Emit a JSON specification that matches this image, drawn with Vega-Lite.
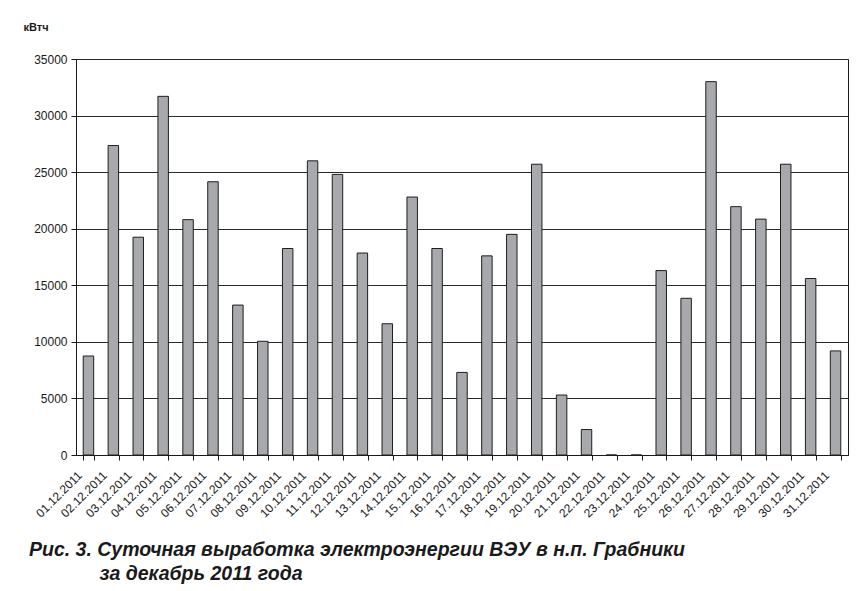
{
  "$schema": "https://vega.github.io/schema/vega-lite/v6.json",
  "autosize": {"type": "none"},
  "width": 772,
  "height": 396,
  "padding": {"left": 76, "top": 59, "right": 16, "bottom": 136},
  "background": "#ffffff",
  "config": {
    "font": "Liberation Sans",
    "view": {"stroke": "#1a1a1a", "strokeWidth": 1}
  },
  "title": {
    "text": [
      "Рис. 3. Суточная выработка электроэнергии ВЭУ в н.п. Грабники",
      "\u200b\u00a0\u00a0\u00a0\u00a0\u00a0\u00a0\u00a0\u00a0\u00a0\u00a0\u00a0\u00a0\u00a0за декабрь 2011 года"
    ],
    "orient": "bottom",
    "anchor": "start",
    "frame": "group",
    "dx": -47,
    "offset": 22,
    "font": "Liberation Sans",
    "fontSize": 19.5,
    "fontWeight": "bold",
    "fontStyle": "italic",
    "lineHeight": 24,
    "color": "#1a1a1a"
  },
  "data": {
    "values": [
      {"date": "01.12.2011", "kwh": 8750},
      {"date": "02.12.2011", "kwh": 27350},
      {"date": "03.12.2011", "kwh": 19250},
      {"date": "04.12.2011", "kwh": 31700},
      {"date": "05.12.2011", "kwh": 20800},
      {"date": "06.12.2011", "kwh": 24150},
      {"date": "07.12.2011", "kwh": 13250},
      {"date": "08.12.2011", "kwh": 10050},
      {"date": "09.12.2011", "kwh": 18250},
      {"date": "10.12.2011", "kwh": 26000},
      {"date": "11.12.2011", "kwh": 24800},
      {"date": "12.12.2011", "kwh": 17850},
      {"date": "13.12.2011", "kwh": 11600},
      {"date": "14.12.2011", "kwh": 22800},
      {"date": "15.12.2011", "kwh": 18250},
      {"date": "16.12.2011", "kwh": 7300},
      {"date": "17.12.2011", "kwh": 17600},
      {"date": "18.12.2011", "kwh": 19500},
      {"date": "19.12.2011", "kwh": 25700},
      {"date": "20.12.2011", "kwh": 5300},
      {"date": "21.12.2011", "kwh": 2250},
      {"date": "22.12.2011", "kwh": 0},
      {"date": "23.12.2011", "kwh": 0},
      {"date": "24.12.2011", "kwh": 16300},
      {"date": "25.12.2011", "kwh": 13850},
      {"date": "26.12.2011", "kwh": 33000},
      {"date": "27.12.2011", "kwh": 21950},
      {"date": "28.12.2011", "kwh": 20850},
      {"date": "29.12.2011", "kwh": 25700},
      {"date": "30.12.2011", "kwh": 15600},
      {"date": "31.12.2011", "kwh": 9200}
    ]
  },
  "mark": {"type": "bar", "fill": "#a8a9ad", "stroke": "#1e1e1e", "strokeWidth": 1},
  "encoding": {
    "x": {
      "field": "date",
      "type": "ordinal",
      "sort": null,
      "title": null,
      "scale": {"paddingInner": 0.58, "paddingOuter": 0.29},
      "axis": {
        "tickBand": "extent",
        "domainColor": "#1a1a1a",
        "tickColor": "#1a1a1a",
        "tickSize": 5,
        "labelAngle": -45,
        "labelAlign": "right",
        "labelBaseline": "middle",
        "labelOffset": -9,
        "labelPadding": 13,
        "labelFontSize": 12,
        "labelColor": "#1a1a1a",
        "labelFont": "Liberation Sans",
        "grid": false
      }
    },
    "y": {
      "field": "kwh",
      "type": "quantitative",
      "scale": {"domain": [0, 35000], "nice": false},
      "axis": {
        "values": [0, 5000, 10000, 15000, 20000, 25000, 30000, 35000],
        "format": "d",
        "title": "кВтч",
        "titleAngle": 0,
        "titleAlign": "left",
        "titleBaseline": "middle",
        "titleX": -53,
        "titleY": -32,
        "titleFontSize": 11,
        "titleFontWeight": "bold",
        "titleColor": "#1a1a1a",
        "titleFont": "Liberation Sans",
        "domainColor": "#1a1a1a",
        "tickColor": "#1a1a1a",
        "tickSize": 5,
        "labelPadding": 4,
        "labelFontSize": 12,
        "labelColor": "#1a1a1a",
        "labelFont": "Liberation Sans",
        "grid": true,
        "gridColor": "#2a2a2a",
        "gridWidth": 1,
        "gridOpacity": 1
      }
    }
  }
}
